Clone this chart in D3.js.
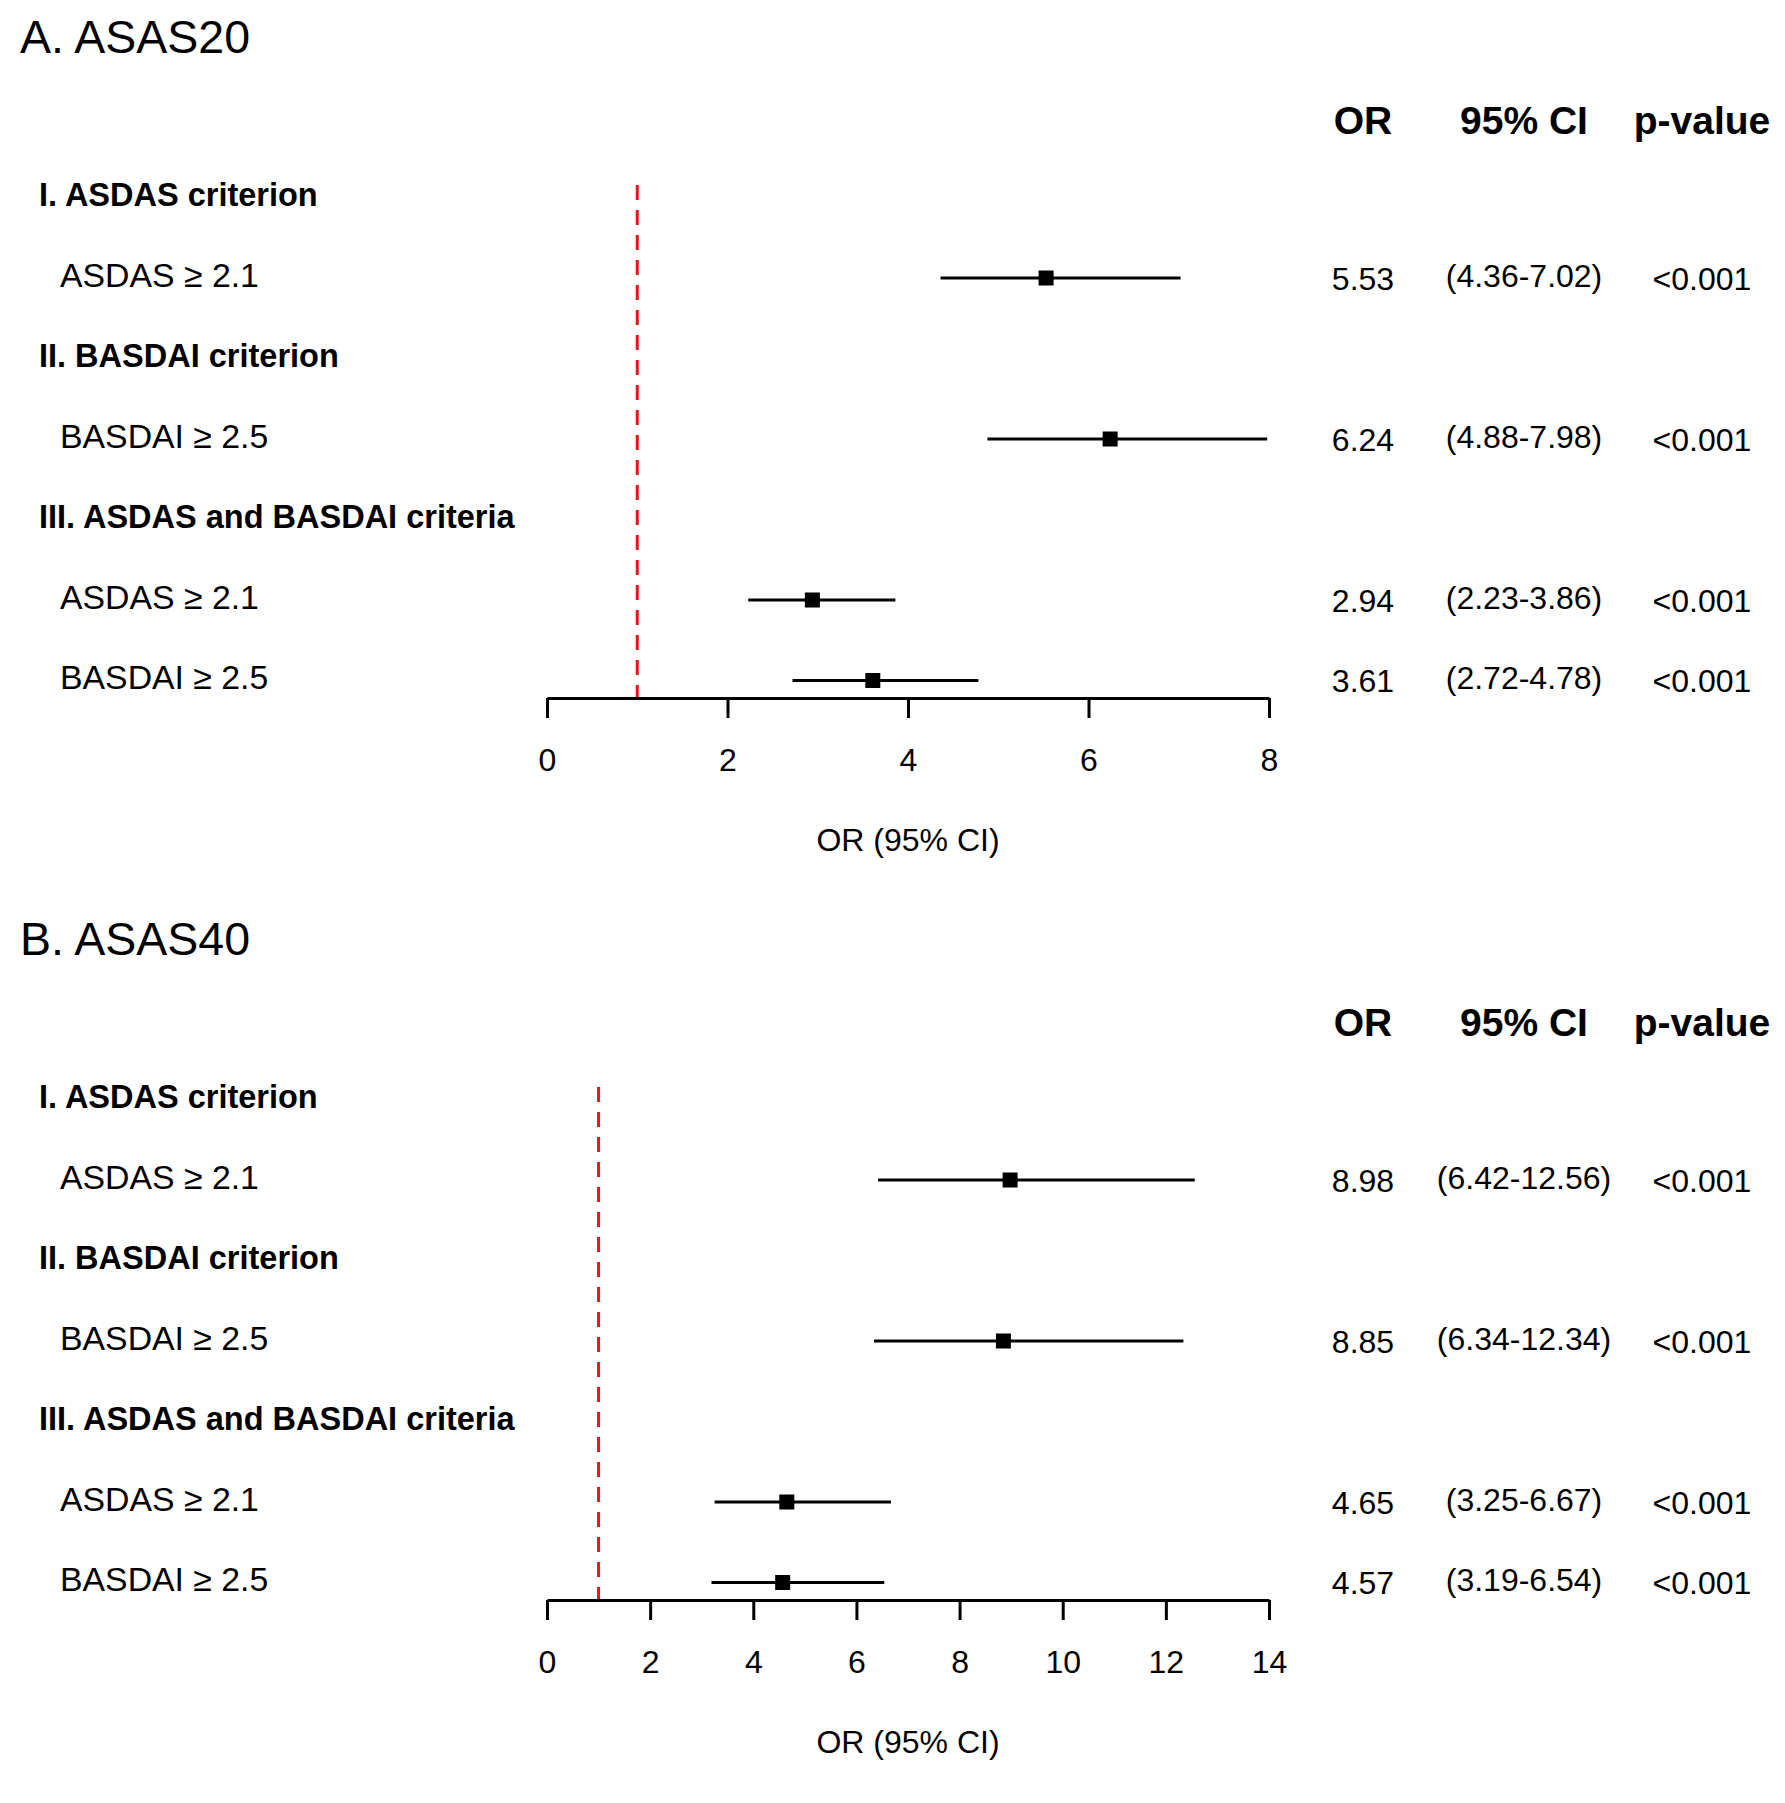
<!DOCTYPE html>
<html><head><meta charset="utf-8">
<script src="https://cdn.jsdelivr.net/npm/d3@7"></script>
<style>body{margin:0;background:#fff} text{font-family:"Liberation Sans", Arial, Helvetica, sans-serif;fill:#000}</style>
</head><body><svg id="chart" width="1785" height="1803"></svg>
<script>
// ---- data ----
const panelTitles = ["A. ASAS20", "B. ASAS40"];
const rowLabels = ["I. ASDAS criterion", "ASDAS \u2265 2.1", "II. BASDAI criterion", "BASDAI \u2265 2.5",
                   "III. ASDAS and BASDAI criteria", "ASDAS \u2265 2.1", "BASDAI \u2265 2.5"];
const rowIsSection = [true, false, true, false, true, false, false];
const dataRowIndex = [1, 3, 5, 6];
const colHeaders = ["OR", "95% CI", "p-value"];

const orA   = [5.53, 6.24, 2.94, 3.61];
const lowA  = [4.36, 4.88, 2.23, 2.72];
const highA = [7.02, 7.98, 3.86, 4.78];
const pA    = ["<0.001", "<0.001", "<0.001", "<0.001"];
const ticksA = [0, 2, 4, 6, 8];

const orB   = [8.98, 8.85, 4.65, 4.57];
const lowB  = [6.42, 6.34, 3.25, 3.19];
const highB = [12.56, 12.34, 6.67, 6.54];
const pB    = ["<0.001", "<0.001", "<0.001", "<0.001"];
const ticksB = [0, 2, 4, 6, 8, 10, 12, 14];

const refValue = 1;
const axisTitle = "OR (95% CI)";

// ---- drawing ----
const svg = d3.select("#chart");
const panelOffset = 902;
const colX = [1363, 1524, 1702];

function drawPanel(idx, or, low, high, p, ticks) {
  const g = svg.append("g").attr("transform", `translate(0,${idx * panelOffset})`);
  const x = d3.scaleLinear().domain([ticks[0], ticks[ticks.length - 1]]).range([547, 1269]);
  const y = d3.scaleLinear().domain([0, 6]).range([194.5, 677.5]); // label centres
  const axisY = 698;

  g.append("text").attr("x", 20).attr("y", 53).attr("font-size", 46.5).text(panelTitles[idx]);

  g.selectAll("text.hdr").data(colHeaders).join("text").attr("class", "hdr")
    .attr("x", (d, i) => colX[i]).attr("y", 133.5).attr("text-anchor", "middle")
    .attr("font-size", 39).attr("font-weight", "bold").text(d => d);

  g.selectAll("text.row").data(rowLabels).join("text").attr("class", "row")
    .attr("x", (d, i) => rowIsSection[i] ? 39 : 60)
    .attr("y", (d, i) => y(i) + 11.5)
    .attr("font-size", (d, i) => rowIsSection[i] ? 32.5 : 33.8)
    .attr("font-weight", (d, i) => rowIsSection[i] ? "bold" : "normal")
    .text(d => d);

  // reference line
  g.append("line").attr("x1", x(refValue)).attr("x2", x(refValue))
    .attr("y1", 185).attr("y2", axisY)
    .attr("stroke", "#e8141b").attr("stroke-width", 3).attr("stroke-dasharray", "15,10");

  const rows = dataRowIndex.map((r, i) => ({r, or: or[i], low: low[i], high: high[i], p: p[i]}));

  g.selectAll("line.ci").data(rows).join("line").attr("class", "ci")
    .attr("x1", d => x(d.low)).attr("x2", d => x(d.high))
    .attr("y1", d => y(d.r) + 3).attr("y2", d => y(d.r) + 3)
    .attr("stroke", "#000").attr("stroke-width", 3);

  g.selectAll("rect.pt").data(rows).join("rect").attr("class", "pt")
    .attr("x", d => x(d.or) - 7.5).attr("y", d => y(d.r) + 3 - 7.5)
    .attr("width", 15).attr("height", 15).attr("fill", "#000");

  g.selectAll("text.orv").data(rows).join("text").attr("class", "orv")
    .attr("x", colX[0]).attr("y", d => y(d.r) + 3 + 11.5).attr("text-anchor", "middle")
    .attr("font-size", 32).text(d => d.or.toFixed(2));
  g.selectAll("text.civ").data(rows).join("text").attr("class", "civ")
    .attr("x", colX[1]).attr("y", d => y(d.r) + 11.5).attr("text-anchor", "middle")
    .attr("font-size", 32).text(d => `(${d.low.toFixed(2)}-${d.high.toFixed(2)})`);
  g.selectAll("text.pv").data(rows).join("text").attr("class", "pv")
    .attr("x", colX[2]).attr("y", d => y(d.r) + 3 + 11.5).attr("text-anchor", "middle")
    .attr("font-size", 32).text(d => d.p);

  const ax = g.append("g").attr("transform", `translate(0,${axisY})`)
    .call(d3.axisBottom(x).tickValues(ticks).tickFormat(d3.format("d"))
      .tickSize(20).tickSizeOuter(0).tickPadding(30.5));
  ax.select(".domain").attr("stroke", "#000").attr("stroke-width", 3);
  ax.selectAll(".tick line").attr("stroke", "#000").attr("stroke-width", 3);
  ax.selectAll(".tick text").attr("font-size", 32).attr("font-family", '"Liberation Sans", Arial, sans-serif').attr("fill", "#000");

  g.append("text").attr("x", (x.range()[0] + x.range()[1]) / 2).attr("y", axisY + 141.5 + 11.5)
    .attr("text-anchor", "middle").attr("font-size", 32).text(axisTitle);
}

drawPanel(0, orA, lowA, highA, pA, ticksA);
drawPanel(1, orB, lowB, highB, pB, ticksB);
</script></body></html>
